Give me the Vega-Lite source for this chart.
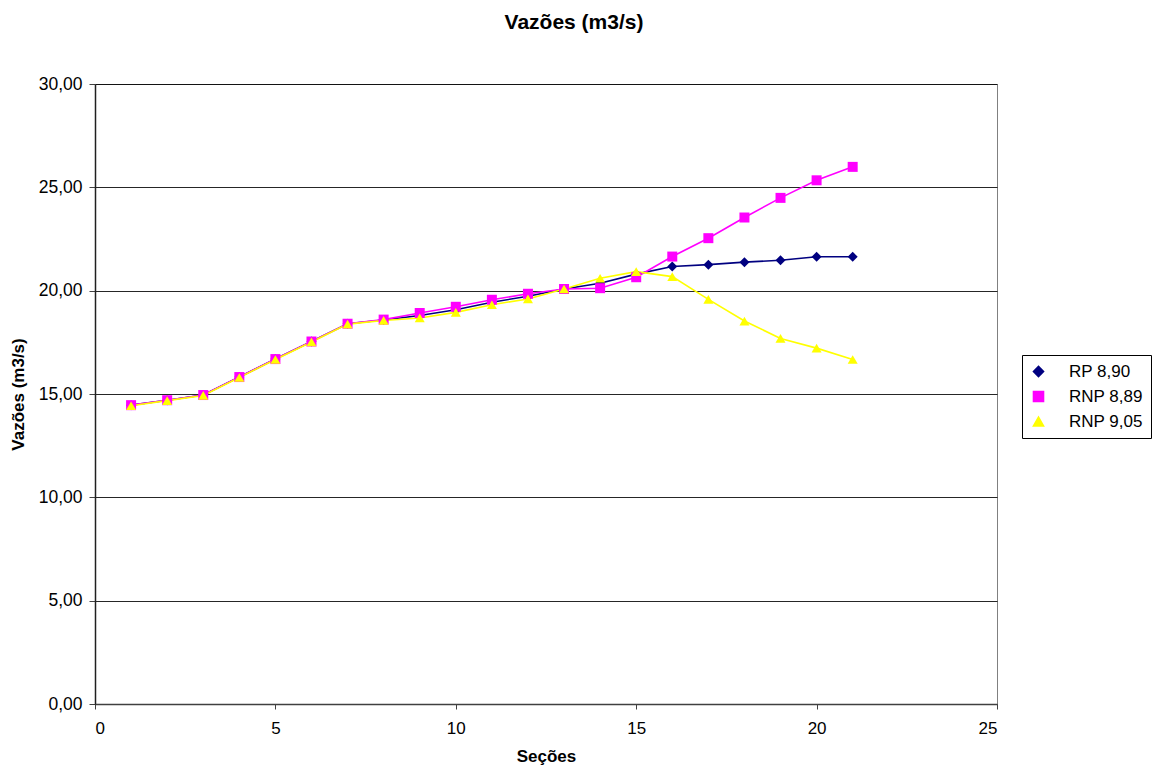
{
  "$schema": "https://vega.github.io/schema/vega-lite/v6.json",
  "autosize": "none",
  "width": 902,
  "height": 620,
  "padding": {"left": 95, "top": 84, "right": 155, "bottom": 67},
  "background": "white",
  "config": {
    "font": "Liberation Sans",
    "view": {"stroke": "#808080", "strokeWidth": 1}
  },
  "title": {
    "text": "Vazões (m3/s)",
    "fontSize": 21,
    "fontWeight": "bold",
    "font": "Liberation Sans",
    "anchor": "middle",
    "dx": 28,
    "offset": 42,
    "color": "black"
  },
  "data": {
    "values": [
      {"s": 1, "serie": "RP 8,90", "v": 14.46},
      {"s": 2, "serie": "RP 8,90", "v": 14.7},
      {"s": 3, "serie": "RP 8,90", "v": 14.95},
      {"s": 4, "serie": "RP 8,90", "v": 15.82},
      {"s": 5, "serie": "RP 8,90", "v": 16.69},
      {"s": 6, "serie": "RP 8,90", "v": 17.54},
      {"s": 7, "serie": "RP 8,90", "v": 18.4},
      {"s": 8, "serie": "RP 8,90", "v": 18.58},
      {"s": 9, "serie": "RP 8,90", "v": 18.8},
      {"s": 10, "serie": "RP 8,90", "v": 19.08},
      {"s": 11, "serie": "RP 8,90", "v": 19.44},
      {"s": 12, "serie": "RP 8,90", "v": 19.73},
      {"s": 13, "serie": "RP 8,90", "v": 20.08},
      {"s": 14, "serie": "RP 8,90", "v": 20.36},
      {"s": 15, "serie": "RP 8,90", "v": 20.8},
      {"s": 16, "serie": "RP 8,90", "v": 21.17},
      {"s": 17, "serie": "RP 8,90", "v": 21.26},
      {"s": 18, "serie": "RP 8,90", "v": 21.38},
      {"s": 19, "serie": "RP 8,90", "v": 21.47},
      {"s": 20, "serie": "RP 8,90", "v": 21.64},
      {"s": 21, "serie": "RP 8,90", "v": 21.64},
      {"s": 1, "serie": "RNP 8,89", "v": 14.46},
      {"s": 2, "serie": "RNP 8,89", "v": 14.7},
      {"s": 3, "serie": "RNP 8,89", "v": 14.95},
      {"s": 4, "serie": "RNP 8,89", "v": 15.82},
      {"s": 5, "serie": "RNP 8,89", "v": 16.69},
      {"s": 6, "serie": "RNP 8,89", "v": 17.54},
      {"s": 7, "serie": "RNP 8,89", "v": 18.4},
      {"s": 8, "serie": "RNP 8,89", "v": 18.6},
      {"s": 9, "serie": "RNP 8,89", "v": 18.92},
      {"s": 10, "serie": "RNP 8,89", "v": 19.22},
      {"s": 11, "serie": "RNP 8,89", "v": 19.56},
      {"s": 12, "serie": "RNP 8,89", "v": 19.85},
      {"s": 13, "serie": "RNP 8,89", "v": 20.08},
      {"s": 14, "serie": "RNP 8,89", "v": 20.12},
      {"s": 15, "serie": "RNP 8,89", "v": 20.65},
      {"s": 16, "serie": "RNP 8,89", "v": 21.65},
      {"s": 17, "serie": "RNP 8,89", "v": 22.54},
      {"s": 18, "serie": "RNP 8,89", "v": 23.54},
      {"s": 19, "serie": "RNP 8,89", "v": 24.49},
      {"s": 20, "serie": "RNP 8,89", "v": 25.34},
      {"s": 21, "serie": "RNP 8,89", "v": 25.99},
      {"s": 1, "serie": "RNP 9,05", "v": 14.43},
      {"s": 2, "serie": "RNP 9,05", "v": 14.68},
      {"s": 3, "serie": "RNP 9,05", "v": 14.93},
      {"s": 4, "serie": "RNP 9,05", "v": 15.8},
      {"s": 5, "serie": "RNP 9,05", "v": 16.67},
      {"s": 6, "serie": "RNP 9,05", "v": 17.52},
      {"s": 7, "serie": "RNP 9,05", "v": 18.38},
      {"s": 8, "serie": "RNP 9,05", "v": 18.56},
      {"s": 9, "serie": "RNP 9,05", "v": 18.68},
      {"s": 10, "serie": "RNP 9,05", "v": 18.95},
      {"s": 11, "serie": "RNP 9,05", "v": 19.32},
      {"s": 12, "serie": "RNP 9,05", "v": 19.6},
      {"s": 13, "serie": "RNP 9,05", "v": 20.08},
      {"s": 14, "serie": "RNP 9,05", "v": 20.6},
      {"s": 15, "serie": "RNP 9,05", "v": 20.92},
      {"s": 16, "serie": "RNP 9,05", "v": 20.68},
      {"s": 17, "serie": "RNP 9,05", "v": 19.58},
      {"s": 18, "serie": "RNP 9,05", "v": 18.53},
      {"s": 19, "serie": "RNP 9,05", "v": 17.69},
      {"s": 20, "serie": "RNP 9,05", "v": 17.22},
      {"s": 21, "serie": "RNP 9,05", "v": 16.67}
    ]
  },
  "encoding": {
    "x": {
      "field": "s",
      "type": "quantitative",
      "scale": {"domain": [0, 25], "nice": false, "zero": false},
      "axis": {
        "title": "Seções",
        "titleFontSize": 17,
        "titleFontWeight": "bold",
        "titleColor": "black",
        "titlePadding": 12,
        "values": [0, 5, 10, 15, 20, 25],
        "grid": false,
        "labelFontSize": 17,
        "labelColor": "black",
        "labelPadding": 11,
        "tickSize": 5,
        "tickColor": "#404040",
        "domainColor": "#404040",
        "domainWidth": 1.5
      }
    },
    "y": {
      "field": "v",
      "type": "quantitative",
      "scale": {"domain": [0, 30], "nice": false},
      "axis": {
        "title": "Vazões (m3/s)",
        "titleFontSize": 17,
        "titleFontWeight": "bold",
        "titleColor": "black",
        "titlePadding": 11,
        "values": [0, 5, 10, 15, 20, 25, 30],
        "labelExpr": "replace(format(datum.value, '.2f'), '.', ',')",
        "grid": true,
        "gridColor": "#000000",
        "gridOpacity": 0.85,
        "gridWidth": 1,
        "labelFontSize": 17.5,
        "labelColor": "black",
        "labelPadding": 7,
        "tickSize": 6,
        "tickColor": "#404040",
        "domainColor": "#202020",
        "domainWidth": 1.5
      }
    },
    "color": {
      "field": "serie",
      "type": "nominal",
      "scale": {
        "domain": ["RP 8,90", "RNP 8,89", "RNP 9,05"],
        "range": ["#000080", "#FF00FF", "#FFFF00"]
      },
      "legend": {
        "title": null,
        "orient": "none",
        "legendX": 927,
        "legendY": 271,
        "strokeColor": "black",
        "fillColor": "white",
        "padding": 8,
        "labelFontSize": 17,
        "labelColor": "black",
        "symbolSize": 100,
        "symbolStrokeWidth": 1.6,
        "rowPadding": 7,
        "labelOffset": 22
      }
    },
    "shape": {
      "field": "serie",
      "type": "nominal",
      "scale": {
        "domain": ["RP 8,90", "RNP 8,89", "RNP 9,05"],
        "range": ["diamond", "square", "triangle-up"]
      },
      "legend": null
    }
  },
  "layer": [
    {
      "mark": {"type": "line", "strokeWidth": 1.6},
      "encoding": {"order": {"field": "s", "type": "quantitative"}, "shape": null}
    },
    {
      "mark": {"type": "point", "filled": true, "opacity": 1, "size": 100}
    }
  ]
}
